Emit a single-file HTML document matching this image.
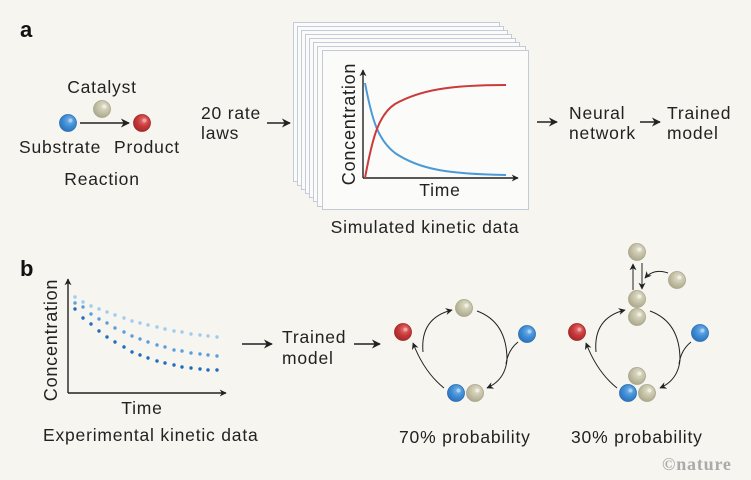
<!DOCTYPE html>
<html><head><meta charset="utf-8"><style>
html,body{margin:0;padding:0;background:#f6f5ef;}
svg{display:block;font-family:"Liberation Sans",sans-serif;fill:#222;}
svg text{letter-spacing:0.8px;}
</style></head><body>
<svg width="751" height="480" viewBox="0 0 751 480" xmlns="http://www.w3.org/2000/svg">
<defs>
<marker id="ah" viewBox="0 0 10 10" refX="9" refY="5" markerWidth="9" markerHeight="9" orient="auto-start-reverse" markerUnits="userSpaceOnUse"><path d="M0,0 L10,5 L0,10 L3,5 z" fill="#222"/></marker>
<marker id="as" viewBox="0 0 10 10" refX="9" refY="5" markerWidth="7" markerHeight="7" orient="auto" markerUnits="userSpaceOnUse"><path d="M0,0 L10,5 L0,10 L3,5 z" fill="#222"/></marker>
<radialGradient id="gb" cx="0.6" cy="0.35" r="0.7"><stop offset="0" stop-color="#7fb6e8"/><stop offset="0.5" stop-color="#3f8ed6"/><stop offset="1" stop-color="#2a6fb5"/></radialGradient>
<radialGradient id="gr" cx="0.6" cy="0.35" r="0.7"><stop offset="0" stop-color="#e87a7a"/><stop offset="0.5" stop-color="#c9393a"/><stop offset="1" stop-color="#a02828"/></radialGradient>
<radialGradient id="gc" cx="0.6" cy="0.35" r="0.7"><stop offset="0" stop-color="#e4e2d0"/><stop offset="0.5" stop-color="#c6c3a8"/><stop offset="1" stop-color="#a9a58a"/></radialGradient>
<g id="B"><circle r="8.5" fill="url(#gb)" stroke="#2a6fb5" stroke-width="0.8"/><circle cx="2.5" cy="-2.5" r="2" fill="#b8d8f5" opacity="0.8"/></g>
<g id="R"><circle r="8.5" fill="url(#gr)" stroke="#a02828" stroke-width="0.8"/><circle cx="2.5" cy="-2.5" r="2" fill="#f0b0b0" opacity="0.8"/></g>
<g id="C"><circle r="8.5" fill="url(#gc)" stroke="#a9a58a" stroke-width="0.8"/><circle cx="2.5" cy="-2.5" r="2" fill="#f4f3ea" opacity="0.8"/></g>
</defs>
<rect width="751" height="480" fill="#f6f5ef"/>

<g font-size="17.5">
<!-- panel a -->
<text x="20" y="37" font-size="22" font-weight="bold" fill="#111">a</text>
<text x="102" y="93" text-anchor="middle">Catalyst</text>
<use href="#C" x="102" y="109"/>
<use href="#B" x="68" y="123"/>
<line x1="80" y1="123" x2="129" y2="123" stroke="#222" stroke-width="1.5" marker-end="url(#ah)"/>
<use href="#R" x="142" y="123"/>
<text x="19" y="153">Substrate</text>
<text x="114" y="153">Product</text>
<text x="102" y="185" text-anchor="middle">Reaction</text>
<text x="201" y="119">20 rate</text>
<text x="201" y="139">laws</text>
<line x1="267" y1="123" x2="290" y2="123" stroke="#222" stroke-width="1.5" marker-end="url(#ah)"/>

<g fill="#fbfbfa" stroke="#c5cad8" stroke-width="1">
<rect x="293.5" y="22.5" width="206" height="159"/>
<rect x="297.5" y="26.5" width="206" height="159"/>
<rect x="301.5" y="30.5" width="206" height="159"/>
<rect x="305.5" y="34.5" width="206" height="159"/>
<rect x="309.5" y="38.5" width="206" height="159"/>
<rect x="313.5" y="42.5" width="206" height="159"/>
<rect x="317.5" y="46.5" width="208" height="160"/>
<rect x="322.5" y="50.5" width="206" height="159"/>
</g>
<line x1="363" y1="178" x2="363" y2="70" stroke="#222" stroke-width="1.4" marker-end="url(#as)"/>
<line x1="363" y1="178" x2="518" y2="178" stroke="#222" stroke-width="1.4" marker-end="url(#as)"/>
<path d="M365,83 C372,120 378,140 395,153 C420,170 450,174 506,175" fill="none" stroke="#4a9ad8" stroke-width="2"/>
<path d="M365,178 C372,140 378,115 395,104 C420,90 450,85 506,85" fill="none" stroke="#cc3a3a" stroke-width="2"/>
<text transform="translate(355,124) rotate(-90)" font-size="18" text-anchor="middle" letter-spacing="0.5">Concentration</text>
<text x="440" y="196" text-anchor="middle">Time</text>
<text x="425" y="233" text-anchor="middle">Simulated kinetic data</text>

<line x1="537" y1="122" x2="557" y2="122" stroke="#222" stroke-width="1.5" marker-end="url(#ah)"/>
<text x="569" y="119">Neural</text>
<text x="569" y="139">network</text>
<line x1="640" y1="122" x2="660" y2="122" stroke="#222" stroke-width="1.5" marker-end="url(#ah)"/>
<text x="667" y="119">Trained</text>
<text x="667" y="139">model</text>

<!-- panel b -->
<text x="20" y="276" font-size="22" font-weight="bold" fill="#111">b</text>
<line x1="68" y1="393" x2="68" y2="279" stroke="#222" stroke-width="1.4" marker-end="url(#as)"/>
<line x1="68" y1="393" x2="226" y2="393" stroke="#222" stroke-width="1.4" marker-end="url(#as)"/>
<text transform="translate(57,340) rotate(-90)" font-size="18" text-anchor="middle" letter-spacing="0.5">Concentration</text>
<text x="142" y="414" text-anchor="middle">Time</text>
<text x="43" y="441">Experimental kinetic data</text>

<line x1="242" y1="344" x2="272" y2="344" stroke="#222" stroke-width="1.5" marker-end="url(#ah)"/>
<text x="282" y="343">Trained</text>
<text x="282" y="364">model</text>
<line x1="354" y1="344" x2="380" y2="344" stroke="#222" stroke-width="1.5" marker-end="url(#ah)"/>

<!-- cycle 1 -->
<g fill="none" stroke="#222" stroke-width="1">
<path d="M444,388 Q424,372 413,343" marker-end="url(#as)"/>
<path d="M423,352 Q420,318 452,310" marker-end="url(#as)"/>
<path d="M477,311 Q507,322 507,360 Q505,380 487,388" marker-end="url(#as)"/>
<path d="M518,342 Q508,350 506,364"/>
</g>
<use href="#C" x="464" y="308"/>
<use href="#R" x="403" y="332"/>
<use href="#B" x="527" y="334"/>
<use href="#B" x="456" y="393"/>
<use href="#C" x="475" y="393"/>
<text x="399" y="443">70% probability</text>

<!-- cycle 2 -->
<g fill="none" stroke="#222" stroke-width="1">
<path d="M617,388 Q597,372 586,343" marker-end="url(#as)"/>
<path d="M596,352 Q593,318 625,310" marker-end="url(#as)"/>
<path d="M650,311 Q680,322 680,360 Q678,380 660,388" marker-end="url(#as)"/>
<path d="M691,342 Q681,350 679,364"/>
<path d="M633,290 L633,264" marker-end="url(#as)"/>
<path d="M642,263 L642,289" marker-end="url(#as)"/>
<path d="M668,273 Q654,268 645,278" marker-end="url(#as)"/>
</g>
<use href="#C" x="637" y="252"/>
<use href="#C" x="677" y="280"/>
<use href="#C" x="637" y="299"/>
<use href="#C" x="637" y="317"/>
<use href="#R" x="577" y="332"/>
<use href="#B" x="700" y="333"/>
<use href="#C" x="637" y="376"/>
<use href="#B" x="628" y="393"/>
<use href="#C" x="647" y="393"/>
<text x="571" y="443">30% probability</text>

<text x="662" y="470" font-size="18" font-weight="bold" fill="#aaa" letter-spacing="0" font-family="Liberation Serif,serif">©nature</text>
</g>

<g>
<g fill="#9ecbee">
<circle cx="75" cy="297" r="1.7"/><circle cx="83" cy="302" r="1.7"/><circle cx="91" cy="306" r="1.7"/><circle cx="99" cy="309" r="1.7"/><circle cx="107" cy="312" r="1.7"/><circle cx="115" cy="315" r="1.7"/><circle cx="124" cy="318" r="1.7"/><circle cx="132" cy="321" r="1.7"/><circle cx="140" cy="323" r="1.7"/><circle cx="148" cy="325" r="1.7"/><circle cx="157" cy="327" r="1.7"/><circle cx="165" cy="329" r="1.7"/><circle cx="174" cy="331" r="1.7"/><circle cx="182" cy="332" r="1.7"/><circle cx="191" cy="334" r="1.7"/><circle cx="200" cy="335" r="1.7"/><circle cx="208" cy="336" r="1.7"/><circle cx="217" cy="337" r="1.7"/>
</g>
<g fill="#5a9fdc">
<circle cx="75" cy="303" r="1.7"/><circle cx="83" cy="307" r="1.7"/><circle cx="91" cy="314" r="1.7"/><circle cx="99" cy="319" r="1.7"/><circle cx="107" cy="323" r="1.7"/><circle cx="115" cy="328" r="1.7"/><circle cx="124" cy="332" r="1.7"/><circle cx="132" cy="336" r="1.7"/><circle cx="140" cy="339" r="1.7"/><circle cx="148" cy="342" r="1.7"/><circle cx="157" cy="345" r="1.7"/><circle cx="165" cy="347" r="1.7"/><circle cx="174" cy="350" r="1.7"/><circle cx="182" cy="351" r="1.7"/><circle cx="191" cy="353" r="1.7"/><circle cx="200" cy="354" r="1.7"/><circle cx="208" cy="355" r="1.7"/><circle cx="217" cy="356" r="1.7"/>
</g>
<g fill="#1f6bbf">
<circle cx="75" cy="309" r="1.7"/><circle cx="83" cy="318" r="1.7"/><circle cx="91" cy="324" r="1.7"/><circle cx="99" cy="331" r="1.7"/><circle cx="107" cy="337" r="1.7"/><circle cx="115" cy="342" r="1.7"/><circle cx="124" cy="347" r="1.7"/><circle cx="132" cy="352" r="1.7"/><circle cx="140" cy="355" r="1.7"/><circle cx="148" cy="358" r="1.7"/><circle cx="157" cy="361" r="1.7"/><circle cx="165" cy="363" r="1.7"/><circle cx="174" cy="365" r="1.7"/><circle cx="182" cy="367" r="1.7"/><circle cx="191" cy="368" r="1.7"/><circle cx="200" cy="369" r="1.7"/><circle cx="208" cy="370" r="1.7"/><circle cx="217" cy="370" r="1.7"/>
</g>
</g>
</svg>
</body></html>
